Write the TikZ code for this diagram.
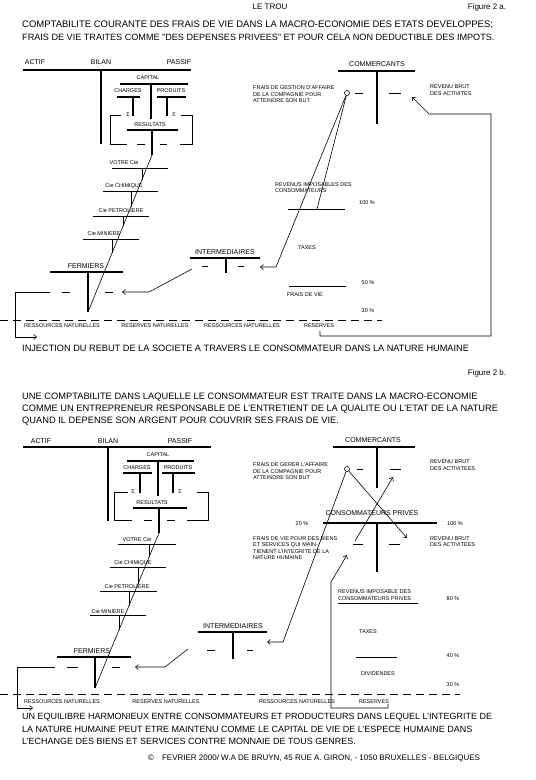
\documentclass[tikz,border=0pt]{standalone}
\usepackage{fontspec}
\setmainfont{Liberation Sans}
\usetikzlibrary{positioning,calc,arrows.meta}
\tikzset{
  bar/.style={draw=black,line width=1.8pt},
  rule/.style={draw=black,line width=0.6pt},
  arr/.style={draw=black,line width=0.6pt,-{Straight Barb[length=3pt,width=5pt]}},
  ground/.style={draw=black,line width=0.7pt,dash pattern=on 8pt off 5pt},
  big/.style={inner sep=0pt,font=\fontsize{9.3}{11}\selectfont},
  body/.style={inner sep=0pt,font=\fontsize{9}{11}\selectfont},
  mid/.style={inner sep=0pt,font=\fontsize{7}{8}\selectfont},
  sml/.style={inner sep=0pt,font=\fontsize{5.5}{6.5}\selectfont},
  note/.style={inner sep=0pt,align=left,font=\fontsize{5.5}{6.5}\selectfont},
  hole/.style={circle,draw=black,line width=0.6pt,inner sep=0pt,minimum size=5pt},
}

\begin{document}
\begin{tikzpicture}[x=1pt,y=-1pt]
\useasboundingbox[fill=white] (0,0) rectangle (536,780);

% ---------------- figure 2 a ----------------
\node[body,font=\fontsize{8}{10}\selectfont] (aTrou) at (270,7) {LE TROU};
\node[body,font=\fontsize{8}{10}\selectfont] (aFig) at (487,7) {Figure 2 a.};
\node[big,anchor=west,font=\fontsize{9.5}{11}\selectfont] (aTit1) at (22,25) {COMPTABILITE COURANTE DES FRAIS DE VIE DANS LA MACRO-ECONOMIE DES ETATS DEVELOPPES;};
\node[big,anchor=west,font=\fontsize{9.1}{11}\selectfont] (aTit2) at (22,37) {FRAIS DE VIE TRAITES COMME "DES DEPENSES PRIVEES" ET POUR CELA NON DEDUCTIBLE DES IMPOTS.};

% bilan
\coordinate (aBilL) at (23,70);
\coordinate (aBilR) at (191,70);
\coordinate (aBilT) at (101,70);
\coordinate (aBilB) at (101,144);
\coordinate (aCapL) at (120,84);
\coordinate (aCapR) at (188,84);
\coordinate (aCapT) at (151,84);
\coordinate (aCapB) at (151,119);
\coordinate (aChaL) at (117,97);
\coordinate (aChaR) at (140,97);
\coordinate (aChaT) at (133,97);
\coordinate (aChaB) at (133,116);
\coordinate (aProL) at (157,97);
\coordinate (aProR) at (186,97);
\coordinate (aProT) at (167,97);
\coordinate (aProB) at (167,116);
\coordinate (aResL) at (127,130);
\coordinate (aResR) at (178,130);
\coordinate (aResT) at (152,130);
\coordinate (aResB) at (152,155);
\draw[bar] (aBilL) -- (aBilR);
\draw[bar] (aBilT) -- (aBilB);
\draw[bar] (aCapL) -- (aCapR);
\draw[bar] (aCapT) -- (aCapB);
\draw[bar] (aChaL) -- (aChaR);
\draw[bar] (aChaT) -- (aChaB);
\draw[bar] (aProL) -- (aProR);
\draw[bar] (aProT) -- (aProB);
\draw[bar] (aResL) -- (aResR);
\draw[bar] (aResT) -- (aResB);
\coordinate (aBrk1) at (121,115);
\coordinate (aBrk2) at (110,115);
\coordinate (aBrk3) at (110,144);
\coordinate (aBrk4) at (127,144);
\coordinate (aBrk5) at (181,115);
\coordinate (aBrk6) at (192,115);
\coordinate (aBrk7) at (192,144);
\coordinate (aBrk8) at (180,144);
\draw[rule] (aBrk1) -- (aBrk2) -- (aBrk3) -- (aBrk4);
\draw[rule] (aBrk5) -- (aBrk6) -- (aBrk7) -- (aBrk8);
\node[mid] (aActif) at (35,62) {ACTIF};
\node[mid] (aBilan) at (101,62) {BILAN};
\node[mid] (aPassif) at (179,62) {PASSIF};
\node[sml] (aCapital) at (148,78) {CAPITAL};
\node[sml] (aCharges) at (128,91) {CHARGES};
\node[sml] (aProduits) at (171,91) {PRODUITS};
\node[sml] (aSigC) at (128,115) {Σ};
\node[sml] (aSigP) at (174,115) {Σ};
\node[sml] (aResult) at (150,125) {RESULTATS};

% chaine des compagnies
\coordinate (aVotL) at (112,168);
\coordinate (aVotR) at (168,168);
\coordinate (aVotT) at (142,168);
\coordinate (aVotF) at (142,179.5);
\coordinate (aChiL) at (103,191);
\coordinate (aChiR) at (158,191);
\coordinate (aChiT) at (131,191);
\coordinate (aChiF) at (131,206.5);
\coordinate (aPetL) at (93,216);
\coordinate (aPetR) at (149,216);
\coordinate (aPetT) at (123,216);
\coordinate (aPetF) at (123,226.1);
\coordinate (aMinL) at (83,239);
\coordinate (aMinR) at (139,239);
\coordinate (aMinT) at (112,239);
\coordinate (aMinF) at (112,253.1);
\coordinate (aFerL) at (50,272);
\coordinate (aFerR) at (123,272);
\coordinate (aFerT) at (88,272);
\coordinate (aFerB) at (88,312);
\draw[rule] (aVotL) -- (aVotR);
\draw[rule] (aVotT) -- (aVotF);
\draw[rule] (aChiL) -- (aChiR);
\draw[rule] (aChiT) -- (aChiF);
\draw[rule] (aPetL) -- (aPetR);
\draw[rule] (aPetT) -- (aPetF);
\draw[rule] (aMinL) -- (aMinR);
\draw[rule] (aMinT) -- (aMinF);
\draw[rule] (aResB) -- (aFerB);
\draw[bar] (aFerL) -- (aFerR);
\draw[bar] (aFerT) -- (aFerB);
\node[sml] (aVotre) at (124,163) {VOTRE Cie};
\node[sml] (aChim) at (124,186) {Cie CHIMIQUE};
\node[sml] (aPetro) at (121,211) {Cie PETROLIERE};
\node[sml] (aMine) at (104,234) {Cie MINIERE};
\node[mid] (aFerm) at (86,266) {FERMIERS};

% intermediaires et commercants
\coordinate (aIntL) at (190,258);
\coordinate (aIntR) at (260,258);
\coordinate (aIntT) at (226,258);
\coordinate (aIntB) at (226,273);
\coordinate (aComL) at (338,71);
\coordinate (aComR) at (415,71);
\coordinate (aComT) at (377,71);
\coordinate (aComB) at (377,124);
\draw[bar] (aIntL) -- (aIntR);
\draw[bar] (aIntT) -- (aIntB);
\draw[bar] (aComL) -- (aComR);
\draw[bar] (aComT) -- (aComB);
\foreach \xa/\xb/\y in {137/145/144,160/167/144,62/70/292,105/113/292,202/208/266,238/244/266,355/363/93,389/401/93}
  \draw[rule] (\xa,\y) -- (\xb,\y);
\node[mid] (aInter) at (225,252) {INTERMEDIAIRES};
\node[mid] (aComm) at (377,64) {COMMERCANTS};
\node[hole] (aHole) at (347,93) {};
\node[note,anchor=west] (aGest) at (253,94.5) {FRAIS DE GESTION D'AFFAIRE\\DE LA COMPAGNIE POUR\\ATTEINDRE SON BUT};
\node[note,anchor=west] (aBrut) at (430,90) {REVENU BRUT\\DES ACTIVITES};

% revenus du consommateur
\coordinate (aTopL) at (288,209);
\coordinate (aTopR) at (345,209);
\coordinate (aTaxIn) at (317,209);
\coordinate (aMidL) at (289,286);
\coordinate (aMidR) at (346,286);
\draw[rule] (aTopL) -- (aTopR);
\draw[rule] (aMidL) -- (aMidR);
\node[note,anchor=west] (aImp) at (275,187.5) {REVENUS IMPOSABLES DES\\CONSOMMATEURS};
\node[sml] (aP100) at (367,203) {100 \%};
\node[sml] (aTaxes) at (307,248) {TAXES};
\node[sml] (aP50) at (368,283) {50 \%};
\node[sml] (aFrais) at (305,295) {FRAIS DE VIE};
\node[sml] (aP30) at (368,311) {30 \%};

% nature
\coordinate (aGndL) at (0,320);
\coordinate (aGndR) at (382,320);
\draw[ground] (aGndL) -- (aGndR);
\node[sml] (aRes1) at (62,326) {RESSOURCES NATURELLES};
\node[sml] (aRsv1) at (155,326) {RESERVES NATURELLES};
\node[sml] (aRes2) at (242,326) {RESSOURCES NATURELLES};
\node[sml] (aRsv2) at (319,326) {RESERVES};

% flux
\coordinate (aIntOut) at (192,269);
\coordinate (aKnee1) at (149,292);
\coordinate (aFerIn) at (122,292);
\coordinate (aKnee2) at (276,267);
\coordinate (aIntIn) at (260,267);
\coordinate (aOutL) at (50,292);
\coordinate (aCnr1) at (15,292);
\coordinate (aCnr2) at (15,337);
\coordinate (aInjEnd) at (37,337);
\coordinate (aRet1) at (320,331);
\coordinate (aRet2) at (320,336);
\coordinate (aRet3) at (491,336);
\coordinate (aRet4) at (491,114);
\coordinate (aRet5) at (429,114);
\coordinate (aRetEnd) at (412,97);
\draw[arr] (aIntOut) -- (aKnee1) -- (aFerIn);
\draw[arr] (aHole) -- (aKnee2) -- (aIntIn);
\draw[rule] (aHole) -- (aTaxIn);
\draw[arr] (aOutL) -- (aCnr1) -- (aCnr2) -- (aInjEnd);
\draw[arr] (aRet1) -- (aRet2) -- (aRet3) -- (aRet4) -- (aRet5) -- (aRetEnd);
\node[body,anchor=west,font=\fontsize{9.2}{11}\selectfont] (aInj) at (22,348) {INJECTION DU REBUT DE LA SOCIETE A TRAVERS LE CONSOMMATEUR DANS LA NATURE HUMAINE};

% ---------------- figure 2 b ----------------
\node[body,font=\fontsize{8}{10}\selectfont] (bFig) at (487,373) {Figure 2 b.};
\node[big,anchor=west] (bTit1) at (22,397) {UNE COMPTABILITE DANS LAQUELLE LE CONSOMMATEUR EST TRAITE DANS LA MACRO-ECONOMIE};
\node[big,anchor=west] (bTit2) at (22,409) {COMME UN ENTREPRENEUR RESPONSABLE DE L'ENTRETIENT DE LA QUALITE OU L'ETAT DE LA NATURE};
\node[big,anchor=west] (bTit3) at (22,421) {QUAND IL DEPENSE SON ARGENT POUR COUVRIR SES FRAIS DE VIE.};

% bilan
\coordinate (bBilL) at (23,447);
\coordinate (bBilR) at (211,447);
\coordinate (bBilT) at (108,447);
\coordinate (bBilB) at (108,521);
\coordinate (bCapL) at (127,461);
\coordinate (bCapR) at (194,461);
\coordinate (bCapT) at (158,461);
\coordinate (bCapB) at (158,496);
\coordinate (bChaL) at (123,473);
\coordinate (bChaR) at (152,473);
\coordinate (bChaT) at (140,473);
\coordinate (bChaB) at (140,493);
\coordinate (bProL) at (162,473);
\coordinate (bProR) at (195,473);
\coordinate (bProT) at (173,473);
\coordinate (bProB) at (173,493);
\coordinate (bResL) at (133,508);
\coordinate (bResR) at (187,508);
\coordinate (bResT) at (159,508);
\coordinate (bResB) at (159,533);
\draw[bar] (bBilL) -- (bBilR);
\draw[bar] (bBilT) -- (bBilB);
\draw[bar] (bCapL) -- (bCapR);
\draw[bar] (bCapT) -- (bCapB);
\draw[bar] (bChaL) -- (bChaR);
\draw[bar] (bChaT) -- (bChaB);
\draw[bar] (bProL) -- (bProR);
\draw[bar] (bProT) -- (bProB);
\draw[bar] (bResL) -- (bResR);
\draw[bar] (bResT) -- (bResB);
\coordinate (bBrk1) at (128,492);
\coordinate (bBrk2) at (114,492);
\coordinate (bBrk3) at (114,520);
\coordinate (bBrk4) at (132,520);
\coordinate (bBrk5) at (197,492);
\coordinate (bBrk6) at (208,492);
\coordinate (bBrk7) at (208,520);
\coordinate (bBrk8) at (187,520);
\draw[rule] (bBrk1) -- (bBrk2) -- (bBrk3) -- (bBrk4);
\draw[rule] (bBrk5) -- (bBrk6) -- (bBrk7) -- (bBrk8);
\node[mid] (bActif) at (41,441) {ACTIF};
\node[mid] (bBilan) at (108,441) {BILAN};
\node[mid] (bPassif) at (180,441) {PASSIF};
\node[sml] (bCapital) at (158,455) {CAPITAL};
\node[sml] (bCharges) at (137,468) {CHARGES};
\node[sml] (bProduits) at (178,468) {PRODUITS};
\node[sml] (bSigC) at (133,492) {Σ};
\node[sml] (bSigP) at (180,492) {Σ};
\node[sml] (bResult) at (152,503) {RESULTATS};

% chaine des compagnies
\coordinate (bVotL) at (118,544);
\coordinate (bVotR) at (176,544);
\coordinate (bVotT) at (149,544);
\coordinate (bVotF) at (149,557.2);
\coordinate (bChiL) at (110,567);
\coordinate (bChiR) at (166,567);
\coordinate (bChiT) at (138,567);
\coordinate (bChiF) at (138,583.9);
\coordinate (bPetL) at (100,591);
\coordinate (bPetR) at (157,591);
\coordinate (bPetT) at (129,591);
\coordinate (bPetF) at (129,605.7);
\coordinate (bMinL) at (90,615);
\coordinate (bMinR) at (146,615);
\coordinate (bMinT) at (119,615);
\coordinate (bMinF) at (119,629.9);
\coordinate (bFerL) at (57,657);
\coordinate (bFerR) at (131,657);
\coordinate (bFerT) at (95,657);
\coordinate (bFerB) at (95,688);
\draw[rule] (bVotL) -- (bVotR);
\draw[rule] (bVotT) -- (bVotF);
\draw[rule] (bChiL) -- (bChiR);
\draw[rule] (bChiT) -- (bChiF);
\draw[rule] (bPetL) -- (bPetR);
\draw[rule] (bPetT) -- (bPetF);
\draw[rule] (bMinL) -- (bMinR);
\draw[rule] (bMinT) -- (bMinF);
\draw[rule] (bResB) -- (bFerB);
\draw[bar] (bFerL) -- (bFerR);
\draw[bar] (bFerT) -- (bFerB);
\node[sml] (bVotre) at (137,540) {VOTRE Cie};
\node[sml] (bChim) at (133,563.5) {Cie CHIMIQUE};
\node[sml] (bPetro) at (127,587) {Cie PETROLIERE};
\node[sml] (bMine) at (108,611.5) {Cie MINIERE};
\node[mid] (bFerm) at (92,651.5) {FERMIERS};

% intermediaires, commercants, consommateurs
\coordinate (bIntL) at (198,632);
\coordinate (bIntR) at (267,632);
\coordinate (bIntT) at (233,632);
\coordinate (bIntB) at (233,659);
\coordinate (bComL) at (333,447);
\coordinate (bComR) at (415,447);
\coordinate (bComT) at (377,447);
\coordinate (bComB) at (377,488);
\coordinate (bConL) at (323,523);
\coordinate (bConR) at (437,523);
\coordinate (bConT) at (377,523);
\coordinate (bConB) at (377,572);
\draw[bar] (bIntL) -- (bIntR);
\draw[bar] (bIntT) -- (bIntB);
\draw[bar] (bComL) -- (bComR);
\draw[bar] (bComT) -- (bComB);
\draw[bar] (bConL) -- (bConR);
\draw[bar] (bConT) -- (bConB);
\foreach \xa/\xb/\y in {144/152/520,167/175/520,67/78/667,112/120/667,207/215/650,247/253/650,357/363/469,390/401/469,353/363/544,389/400/544}
  \draw[rule] (\xa,\y) -- (\xb,\y);
\node[mid] (bInter) at (233,626.5) {INTERMEDIAIRES};
\node[mid] (bComm) at (373,440) {COMMERCANTS};
\node[mid] (bCons) at (372,513.5) {CONSOMMATEURS PRIVES};
\node[hole] (bHole) at (347,469) {};
\node[note,anchor=west] (bGest) at (253,471.5) {FRAIS DE GERER L'AFFAIRE\\DE LA COMPAGNIE POUR\\ATTEINDRE SON BUT};
\node[note,anchor=west] (bBrut1) at (430,465) {REVENU BRUT\\DES ACTIVITEES};
\node[sml] (bP20) at (302,524) {20 \%};
\node[sml] (bP100) at (455,524) {100 \%};
\node[note,anchor=west] (bVie) at (253,548) {FRAIS DE VIE POUR DES BIENS\\ET SERVICES QUI MAIN-\\TIENENT L'INTEGRITE DE LA\\NATURE HUMAINE};
\node[note,anchor=west] (bBrut2) at (430,541.5) {REVENU BRUT\\DES ACTIVITEES};

% revenus du consommateur
\coordinate (bImpL) at (338,603);
\coordinate (bImpR) at (418,603);
\coordinate (bMidL) at (356,657);
\coordinate (bMidR) at (397,657);
\draw[rule] (bImpL) -- (bImpR);
\draw[rule] (bMidL) -- (bMidR);
\node[note,anchor=west] (bImp) at (338,595) {REVENUS IMPOSABLE DES\\CONSOMMATEURS PRIVES};
\node[sml] (bP80) at (453,599) {80 \%};
\node[sml] (bTaxes) at (368,632) {TAXES};
\node[sml] (bP40) at (453,656) {40 \%};
\node[sml] (bDiv) at (378,674) {DIVIDENDES};
\node[sml] (bP30) at (453,685) {30 \%};

% nature
\coordinate (bGndL) at (0,694);
\coordinate (bGndR) at (460,694);
\draw[ground] (bGndL) -- (bGndR);
\node[sml] (bRes1) at (62,702) {RESSOURCES NATURELLES};
\node[sml] (bRsv1) at (166,702) {RESERVES NATURELLES};
\node[sml] (bRes2) at (297,702) {RESSOURCES NATURELLES};
\node[sml] (bRsv2) at (374,702) {RESERVES};

% flux
\coordinate (bIntOut) at (188,649);
\coordinate (bKnee1) at (165,667);
\coordinate (bFerIn) at (135,667);
\coordinate (bKnee2) at (283,642);
\coordinate (bIntIn) at (267,642);
\coordinate (bConIn) at (407,538);
\coordinate (bConOut) at (355,541);
\coordinate (bComIn) at (393,477);
\coordinate (bOutL) at (55,667);
\coordinate (bCnr1) at (17,667);
\coordinate (bCnr2) at (17,708);
\coordinate (bInjEnd) at (33,708);
\coordinate (bRet1) at (388,704);
\coordinate (bRet2) at (388,708);
\coordinate (bRet3) at (331,708);
\coordinate (bRet4) at (331,582);
\coordinate (bRetEnd) at (347,555);
\draw[arr] (bIntOut) -- (bKnee1) -- (bFerIn);
\draw[arr] (bHole) -- (bKnee2) -- (bIntIn);
\draw[arr] (bHole) -- (bConIn);
\draw[arr] (bConOut) -- (bComIn);
\draw[arr] (bOutL) -- (bCnr1) -- (bCnr2) -- (bInjEnd);
\draw[arr] (bRet1) -- (bRet2) -- (bRet3) -- (bRet4) -- (bRetEnd);

\node[body,anchor=west] (bEq1) at (22,717) {UN EQUILIBRE HARMONIEUX ENTRE CONSOMMATEURS ET PRODUCTEURS DANS LEQUEL L'INTEGRITE DE};
\node[body,anchor=west] (bEq2) at (22,729) {LA NATURE HUMAINE PEUT ETRE MAINTENU COMME LE CAPITAL DE VIE DE L'ESPECE HUMAINE DANS};
\node[body,anchor=west] (bEq3) at (22,741) {L'ECHANGE DES BIENS ET SERVICES CONTRE MONNAIE DE TOUS GENRES.};
\node[body,anchor=west,font=\fontsize{8}{10}\selectfont] (bCopy) at (148,758) {©\quad FEVRIER 2000/ W.A DE BRUYN, 45 RUE A. GIRON, - 1050 BRUXELLES - BELGIQUES};
\end{tikzpicture}
\end{document}
